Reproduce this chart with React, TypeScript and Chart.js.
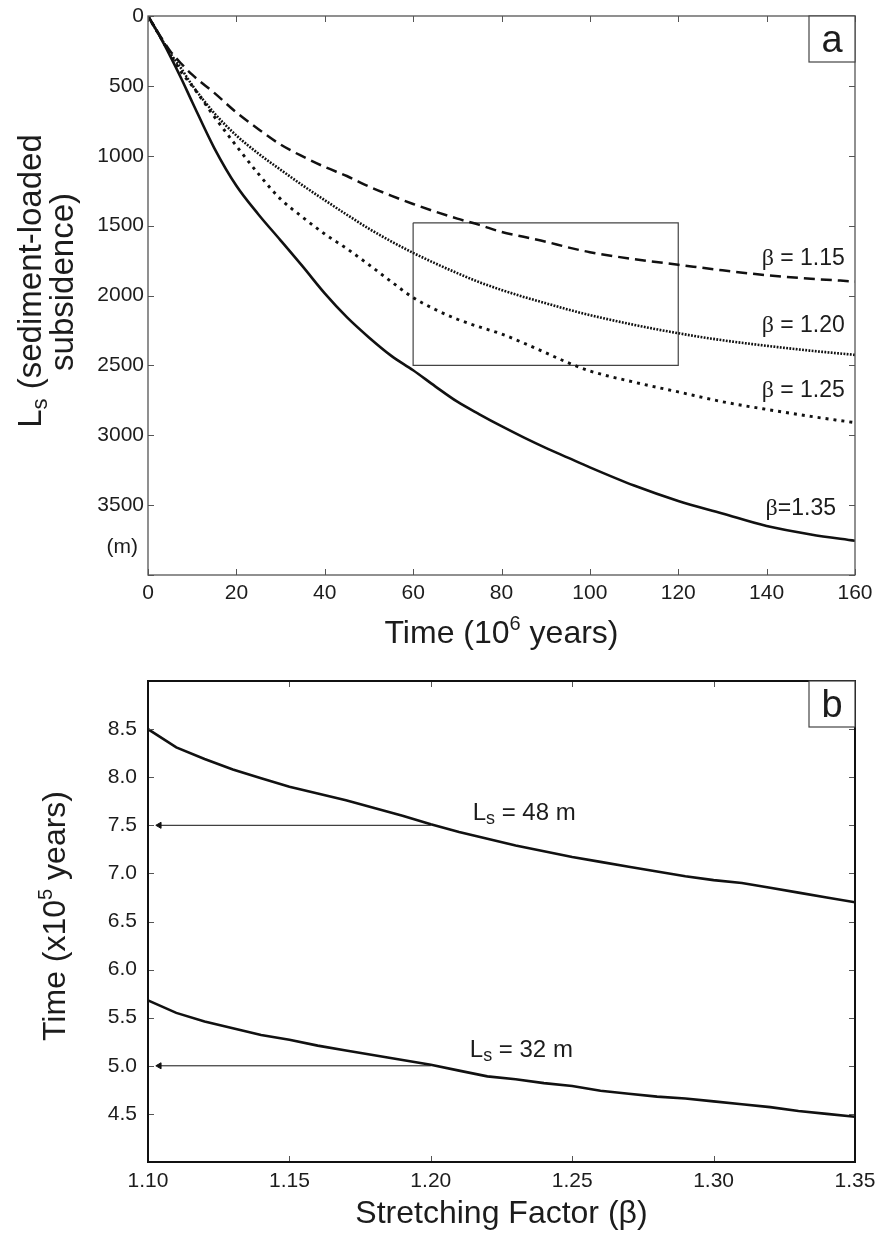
import React, { useEffect, useRef } from "react";
import { Chart, registerables } from "chart.js";
Chart.register(...registerables);

// ---------- Panel (a): sediment-loaded subsidence vs time ----------
const timeMa = [0, 2.5, 5, 7.5, 10, 15, 20, 25, 30, 35, 40, 45, 50, 55, 60, 65, 70, 75, 80, 85, 90, 95, 100, 110, 120, 130, 140, 150, 160];
const subsBeta115 = [0, 130, 250, 340, 420, 550, 690, 810, 920, 1005, 1080, 1145, 1220, 1285, 1345, 1400, 1450, 1495, 1545, 1580, 1615, 1655, 1690, 1740, 1780, 1820, 1855, 1880, 1900];
const subsBeta120 = [0, 135, 265, 375, 495, 695, 855, 985, 1100, 1212, 1318, 1422, 1522, 1612, 1695, 1770, 1840, 1905, 1960, 2010, 2055, 2100, 2140, 2210, 2270, 2320, 2360, 2395, 2425];
const subsBeta125 = [0, 135, 270, 400, 500, 720, 930, 1130, 1310, 1440, 1560, 1665, 1780, 1900, 2015, 2100, 2170, 2225, 2275, 2340, 2410, 2480, 2540, 2620, 2690, 2760, 2815, 2865, 2910];
const subsBeta135 = [0, 135, 285, 445, 615, 945, 1215, 1420, 1605, 1792, 1985, 2155, 2300, 2430, 2535, 2650, 2760, 2850, 2935, 3015, 3090, 3160, 3230, 3360, 3470, 3560, 3650, 3710, 3755];
const boxTime = [60, 120, 120, 60, 60];
const boxDepth = [1480, 1480, 2500, 2500, 1480];
const timeTicks = [0, 20, 40, 60, 80, 100, 120, 140, 160];
const depthTicks = [0, 500, 1000, 1500, 2000, 2500, 3000, 3500, 4000];
const curveLabels = ["1.15", "1.20", "1.25", "=1.35"];
const curveLabelTime = [157.7, 157.7, 157.7, 155.7];
const curveLabelDepth = [1782, 2260, 2725, 3572];

// ---------- Panel (b): time vs stretching factor ----------
const stretchBeta = [1.10, 1.11, 1.12, 1.13, 1.14, 1.15, 1.16, 1.17, 1.18, 1.19, 1.20, 1.21, 1.22, 1.23, 1.24, 1.25, 1.26, 1.27, 1.28, 1.29, 1.30, 1.31, 1.32, 1.33, 1.34, 1.35];
const timeLs48 = [8.50, 8.31, 8.19, 8.08, 7.99, 7.90, 7.83, 7.76, 7.68, 7.60, 7.51, 7.43, 7.36, 7.29, 7.23, 7.17, 7.12, 7.07, 7.02, 6.97, 6.93, 6.90, 6.85, 6.80, 6.75, 6.70];
const timeLs32 = [5.68, 5.55, 5.46, 5.39, 5.32, 5.27, 5.21, 5.16, 5.11, 5.06, 5.01, 4.95, 4.89, 4.86, 4.82, 4.79, 4.74, 4.71, 4.68, 4.66, 4.63, 4.60, 4.57, 4.53, 4.50, 4.47];
const arrowBeta = [1.104, 1.20];
const arrowLevels = [7.5, 5.0];
const lsLabels = ["48 m", "32 m"];
const lsLabelBeta = [1.2148, 1.2138];
const lsLabelTime = [7.556, 5.088];
const betaTicks = [1.10, 1.15, 1.20, 1.25, 1.30, 1.35];
const timeTicksB = [4.0, 4.5, 5.0, 5.5, 6.0, 6.5, 7.0, 7.5, 8.0, 8.5, 9.0];

const SANS = "'Liberation Sans', Arial, Helvetica, sans-serif";
const SERIF = "'Liberation Serif', 'Times New Roman', serif";
const TXT = "#1c1c1c";
const INK = "#111";

type Part = { t: string; size: number; dy?: number; family?: string };
function partsWidth(ctx: CanvasRenderingContext2D, parts: Part[]) {
  let w = 0;
  for (const p of parts) {
    ctx.font = `${p.size}px ${p.family || SANS}`;
    w += ctx.measureText(p.t).width;
  }
  return w;
}
function drawRich(ctx: CanvasRenderingContext2D, parts: Part[], x: number, y: number, align: "left" | "center" | "right") {
  const w = partsWidth(ctx, parts);
  let cx = align === "left" ? x : align === "center" ? x - w / 2 : x - w;
  ctx.textAlign = "left";
  ctx.textBaseline = "alphabetic";
  for (const p of parts) {
    ctx.font = `${p.size}px ${p.family || SANS}`;
    ctx.fillText(p.t, cx, y + (p.dy || 0));
    cx += ctx.measureText(p.t).width;
  }
}
function drawRotated(ctx: CanvasRenderingContext2D, parts: Part[], x: number, y: number) {
  ctx.save();
  ctx.translate(x, y);
  ctx.rotate(-Math.PI / 2);
  drawRich(ctx, parts, 0, 0, "center");
  ctx.restore();
}

const framePlugin = {
  id: "frame",
  afterDatasetsDraw(chart: any, _args: any, opts: any) {
    const { ctx, chartArea: a } = chart;
    const xs = chart.scales.x;
    const ys = chart.scales.y;
    const L = 6;
    ctx.save();
    ctx.strokeStyle = opts.tickColor || "#555";
    ctx.lineWidth = 1;
    ctx.beginPath();
    for (const t of xs.ticks) {
      const px = Math.round(xs.getPixelForValue(t.value)) + 0.5;
      ctx.moveTo(px, a.bottom);
      ctx.lineTo(px, a.bottom - L);
      ctx.moveTo(px, a.top);
      ctx.lineTo(px, a.top + L);
    }
    for (const t of ys.ticks) {
      const py = Math.round(ys.getPixelForValue(t.value)) + 0.5;
      ctx.moveTo(a.left, py);
      ctx.lineTo(a.left + L, py);
      ctx.moveTo(a.right, py);
      ctx.lineTo(a.right - L, py);
    }
    ctx.stroke();
    ctx.strokeStyle = opts.color || "#444";
    ctx.lineWidth = opts.width || 1.2;
    ctx.strokeRect(a.left, a.top, a.right - a.left, a.bottom - a.top);
    const bw = 46;
    ctx.lineWidth = 1.2;
    ctx.strokeStyle = opts.boxColor || "#444";
    ctx.fillStyle = "#fff";
    ctx.fillRect(a.right - bw, a.top, bw, bw);
    ctx.strokeRect(a.right - bw, a.top, bw, bw);
    ctx.fillStyle = TXT;
    ctx.font = `38px ${SANS}`;
    ctx.textAlign = "center";
    ctx.textBaseline = "alphabetic";
    ctx.fillText(opts.letter, a.right - bw / 2, a.top + 36);
    ctx.restore();
  },
};

const tickFont = { family: SANS, size: 21 };
const noOverhangX = (h: number) => (s: any) => { s.height = h; s.paddingLeft = 0; s.paddingRight = 0; };
const noOverhangY = (w: number) => (s: any) => { s.width = w; s.paddingTop = 0; s.paddingBottom = 0; };

function ChartA() {
  const ref = useRef<HTMLCanvasElement>(null);
  useEffect(() => {
    const pts = (ys: number[]) => timeMa.map((t, i) => ({ x: t, y: ys[i] }));
    const common = { borderColor: INK, pointRadius: 0, fill: false, cubicInterpolationMode: "monotone" as const };
    const annot = {
      id: "annotA",
      afterDraw(chart: any) {
        const { ctx } = chart;
        const xs = chart.scales.x;
        const ys = chart.scales.y;
        ctx.save();
        ctx.fillStyle = TXT;
        drawRotated(ctx, [
          { t: "L", size: 33 },
          { t: "s", size: 22, dy: 6 },
          { t: " (sediment-loaded", size: 33 },
        ], 41, 281);
        drawRotated(ctx, [{ t: "subsidence)", size: 33 }], 73, 282);
        drawRich(ctx, [
          { t: "Time (10", size: 32 },
          { t: "6", size: 20, dy: -13 },
          { t: " years)", size: 32 },
        ], (chart.chartArea.left + chart.chartArea.right) / 2, 643, "center");
        ctx.font = `21px ${SANS}`;
        ctx.textAlign = "right";
        ctx.textBaseline = "middle";
        ctx.fillText("(m)", 138, ys.getPixelForValue(3800));
        curveLabels.forEach((lab, i) => {
          const x = xs.getPixelForValue(curveLabelTime[i]);
          const y = ys.getPixelForValue(curveLabelDepth[i]);
          const parts: Part[] = lab.startsWith("=")
            ? [{ t: "\u03b2", size: 24, family: SERIF }, { t: lab, size: 23 }]
            : [{ t: "\u03b2", size: 24, family: SERIF }, { t: " = " + lab, size: 23 }];
          drawRich(ctx, parts, x, y, "right");
        });
        ctx.restore();
      },
    };
    const chart = new Chart(ref.current!, {
      type: "line",
      data: {
        datasets: [
          { ...common, data: pts(subsBeta115), borderWidth: 2.5, borderDash: [11, 6] },
          { ...common, data: pts(subsBeta120), borderWidth: 2.6, borderDash: [1.8, 1.4] },
          { ...common, data: pts(subsBeta125), borderWidth: 2.9, borderDash: [3, 5] },
          { ...common, data: pts(subsBeta135), borderWidth: 2.6 },
          {
            data: boxTime.map((t, i) => ({ x: t, y: boxDepth[i] })),
            borderColor: "#444", borderWidth: 1.2, pointRadius: 0, tension: 0, fill: false,
          },
        ],
      },
      options: {
        responsive: false,
        animation: false,
        devicePixelRatio: 1,
        layout: { padding: { left: 0, right: 20, top: 16, bottom: 0 } },
        plugins: {
          legend: { display: false },
          tooltip: { enabled: false },
          frame: { letter: "a", color: "#555", width: 1.3, tickColor: "#555", boxColor: "#444" },
        } as any,
        scales: {
          x: {
            type: "linear", min: 0, max: 160,
            afterBuildTicks: (s: any) => { s.ticks = timeTicks.map((v) => ({ value: v })); },
            afterFit: noOverhangX(75),
            grid: { display: false, drawTicks: false },
            border: { display: false },
            ticks: { padding: 6, font: tickFont, color: TXT, maxRotation: 0, autoSkip: false },
          },
          y: {
            type: "linear", reverse: true, min: 0, max: 4000,
            afterBuildTicks: (s: any) => { s.ticks = depthTicks.map((v) => ({ value: v })); },
            afterFit: noOverhangY(148),
            grid: { display: false, drawTicks: false },
            border: { display: false },
            ticks: {
              padding: 4, font: tickFont, color: TXT, autoSkip: false,
              callback: (v: any) => (Number(v) === 4000 ? "" : String(v)),
            },
          },
        },
      },
      plugins: [framePlugin, annot],
    } as any);
    return () => chart.destroy();
  }, []);
  return <canvas ref={ref} width={875} height={650} style={{ display: "block", width: 875, height: 650 }} />;
}

function ChartB() {
  const ref = useRef<HTMLCanvasElement>(null);
  useEffect(() => {
    const annot = {
      id: "annotB",
      afterDraw(chart: any) {
        const { ctx } = chart;
        const xs = chart.scales.x;
        const ys = chart.scales.y;
        ctx.save();
        ctx.fillStyle = TXT;
        drawRotated(ctx, [
          { t: "Time (x10", size: 32 },
          { t: "5", size: 20, dy: -13 },
          { t: " years)", size: 32 },
        ], 65, 266);
        drawRich(ctx, [{ t: "Stretching Factor (\u03b2)", size: 32 }],
          (chart.chartArea.left + chart.chartArea.right) / 2, 573, "center");
        lsLabels.forEach((lab, i) => {
          drawRich(ctx, [
            { t: "L", size: 24 },
            { t: "s", size: 18, dy: 4 },
            { t: " = " + lab, size: 24 },
          ], xs.getPixelForValue(lsLabelBeta[i]), ys.getPixelForValue(lsLabelTime[i]), "left");
        });
        ctx.restore();
      },
    };
    const line = (ys: number[]) => ({
      data: stretchBeta.map((b, i) => ({ x: b, y: ys[i] })),
      borderColor: INK, borderWidth: 2.6, pointRadius: 0, tension: 0, fill: false,
    });
    const arrow = (lvl: number) => ({
      data: arrowBeta.map((b) => ({ x: b, y: lvl })),
      borderColor: INK, backgroundColor: INK, borderWidth: 1, tension: 0, fill: false,
      pointStyle: "triangle", pointRadius: [3.5, 0], pointRotation: 270, pointBorderWidth: 1,
    });
    const chart = new Chart(ref.current!, {
      type: "line",
      data: {
        datasets: [line(timeLs48), line(timeLs32), arrow(arrowLevels[0]), arrow(arrowLevels[1])],
      },
      options: {
        responsive: false,
        animation: false,
        devicePixelRatio: 1,
        layout: { padding: { left: 0, right: 20, top: 31, bottom: 0 } },
        plugins: {
          legend: { display: false },
          tooltip: { enabled: false },
          frame: { letter: "b", color: "#111", width: 2, tickColor: "#555", boxColor: "#444" },
        } as any,
        scales: {
          x: {
            type: "linear", min: 1.1, max: 1.35,
            afterBuildTicks: (s: any) => { s.ticks = betaTicks.map((v) => ({ value: v })); },
            afterFit: noOverhangX(81),
            grid: { display: false, drawTicks: false },
            border: { display: false },
            ticks: {
              padding: 7, font: tickFont, color: TXT, maxRotation: 0, autoSkip: false,
              callback: (v: any) => Number(v).toFixed(2),
            },
          },
          y: {
            type: "linear", min: 4, max: 9,
            afterBuildTicks: (s: any) => { s.ticks = timeTicksB.map((v) => ({ value: v })); },
            afterFit: noOverhangY(148),
            grid: { display: false, drawTicks: false },
            border: { display: false },
            ticks: {
              padding: 11, font: tickFont, color: TXT, autoSkip: false,
              callback: (v: any) => {
                const n = Number(v);
                return n < 4.01 || n > 8.99 ? "" : n.toFixed(1);
              },
            },
          },
        },
      },
      plugins: [framePlugin, annot],
    } as any);
    return () => chart.destroy();
  }, []);
  return <canvas ref={ref} width={875} height={593} style={{ display: "block", width: 875, height: 593 }} />;
}

export default function App() {
  return (
    <div style={{ position: "absolute", top: 0, left: 0, width: 875, height: 1243, background: "#fff" }}>
      <ChartA />
      <ChartB />
    </div>
  );
}
